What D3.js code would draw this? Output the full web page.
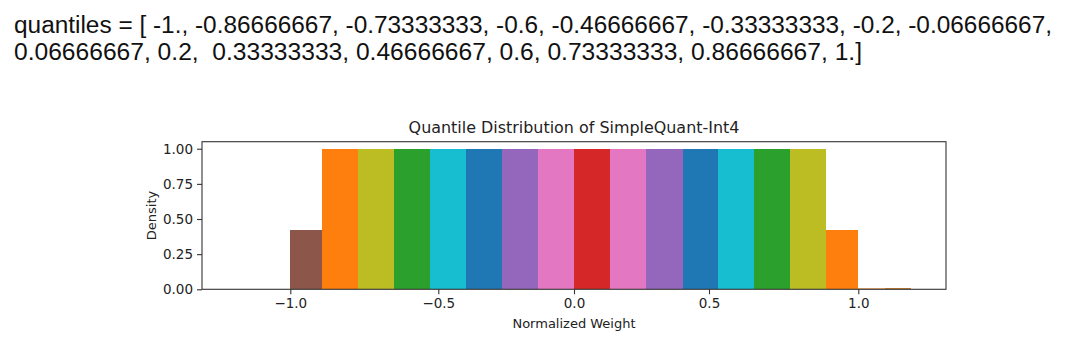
<!DOCTYPE html>
<html>
<head>
<meta charset="utf-8">
<script src="https://cdn.jsdelivr.net/npm/d3@7"></script>
<style>
  html, body { margin: 0; padding: 0; background: #fff; }
  svg { display: block; }
</style>
</head>
<body>
<svg id="chart" width="1080" height="357"></svg>
<script>
// ---------------- data ----------------
const headerLines = [
  "quantiles = [ -1., -0.86666667, -0.73333333, -0.6, -0.46666667, -0.33333333, -0.2, -0.06666667,",
  "0.06666667, 0.2,  0.33333333, 0.46666667, 0.6, 0.73333333, 0.86666667, 1.]"
];
const chartTitle = "Quantile Distribution of SimpleQuant-Int4";
const xLabel = "Normalized Weight";
const yLabel = "Density";

// histogram bin edges (left edges, plus final right edge)
const binEdges = [-1.0, -0.894, -0.771, -0.650, -0.528, -0.398, -0.265, -0.133, 0.0,
                  0.133, 0.267, 0.403, 0.530, 0.651, 0.771, 0.892, 1.0, 1.09, 1.176];
const binDensity = [0.42, 1, 1, 1, 1, 1, 1, 1, 1, 1, 1, 1, 1, 1, 1, 0.42, 0.006, 0.006];
const binColors = ["#8c564b", "#ff7f0e", "#bcbd22", "#2ca02c", "#17becf", "#1f77b4", "#9467bd", "#e377c2",
                   "#d62728", "#e377c2", "#9467bd", "#1f77b4", "#17becf", "#2ca02c", "#bcbd22", "#ff7f0e",
                   "#f0b070", "#d08030"];

const xTicks = [-1.0, -0.5, 0.0, 0.5, 1.0];
const xTickLabels = ["\u22121.0", "\u22120.5", "0.0", "0.5", "1.0"];
const yTicks = [0, 0.25, 0.5, 0.75, 1.0];
const yTickLabels = ["0.00", "0.25", "0.50", "0.75", "1.00"];

// ---------------- layout ----------------
const svg = d3.select("#chart");
const plot = { left: 202, right: 946, top: 141.7, bottom: 289.3 };

// x scale follows the reference's tick positions
const x = d3.scaleLinear()
  .domain(xTicks)
  .range([290.3, 438.3, 574, 709, 858.3]);
const y = d3.scaleLinear().domain([0, 1.05]).range([plot.bottom, plot.top]);

function fitWidth(sel, target) {
  const w = sel.node().getComputedTextLength();
  const fs = parseFloat(sel.attr("font-size"));
  sel.attr("font-size", fs * target / w);
}

// header text
const header = svg.append("g").attr("font-family", "'Liberation Sans', Arial, sans-serif").attr("fill", "#111");
const hb = [32.5, 59.5];
const hw = [1038, 848];
headerLines.forEach((t, i) => {
  const el = header.append("text").attr("x", 14).attr("y", hb[i]).attr("font-size", 23)
    .attr("xml:space", "preserve").style("white-space", "pre").text(t);
  el.attr("textLength", hw[i]).attr("lengthAdjust", "spacingAndGlyphs");
});

// bars
const bars = binDensity.map((d, i) => ({ x0: binEdges[i], x1: binEdges[i + 1], d, c: binColors[i] }));
svg.append("g").selectAll("rect").data(bars).join("rect")
  .attr("x", d => x(d.x0))
  .attr("width", d => Math.max(0, x(d.x1) - x(d.x0)))
  .attr("y", d => Math.min(y(d.d), plot.bottom - 1))
  .attr("height", d => Math.max(1, plot.bottom - y(d.d)))
  .attr("fill", d => d.c)
  .attr("shape-rendering", "crispEdges");

// frame
const axisColor = "#333";
svg.append("rect").attr("x", plot.left).attr("y", plot.top)
  .attr("width", plot.right - plot.left).attr("height", plot.bottom - plot.top)
  .attr("fill", "none").attr("stroke", axisColor).attr("stroke-width", 1.1);

const font = "'DejaVu Sans', sans-serif";

// x axis
const xAxis = d3.axisBottom(x).tickValues(xTicks).tickSize(5).tickPadding(4)
  .tickFormat((d, i) => xTickLabels[i]);
const gx = svg.append("g").attr("transform", `translate(0,${plot.bottom})`).call(xAxis);
gx.select(".domain").remove();
gx.selectAll(".tick line").attr("stroke", axisColor).attr("stroke-width", 1.1);
gx.selectAll(".tick text").attr("font-family", font).attr("font-size", 13.5).attr("fill", "#222");

// y axis
const yAxis = d3.axisLeft(y).tickValues(yTicks).tickSize(5).tickPadding(4)
  .tickFormat((d, i) => yTickLabels[i]);
const gy = svg.append("g").attr("transform", `translate(${plot.left},0)`).call(yAxis);
gy.select(".domain").remove();
gy.selectAll(".tick line").attr("stroke", axisColor).attr("stroke-width", 1.1);
gy.selectAll(".tick text").attr("font-family", font).attr("font-size", 13.5).attr("fill", "#222");

// title
const title = svg.append("text").attr("x", 574).attr("y", 133).attr("text-anchor", "middle")
  .attr("font-family", font).attr("font-size", 14).attr("fill", "#222").text(chartTitle);
fitWidth(title, 331);

// axis labels
svg.append("text").attr("x", 574).attr("y", 328).attr("text-anchor", "middle")
  .attr("font-family", font).attr("font-size", 13).attr("fill", "#222").text(xLabel);
svg.append("text").attr("transform", `translate(156,${(plot.top + plot.bottom) / 2}) rotate(-90)`)
  .attr("text-anchor", "middle")
  .attr("font-family", font).attr("font-size", 13).attr("fill", "#222").text(yLabel);
</script>
</body>
</html>
